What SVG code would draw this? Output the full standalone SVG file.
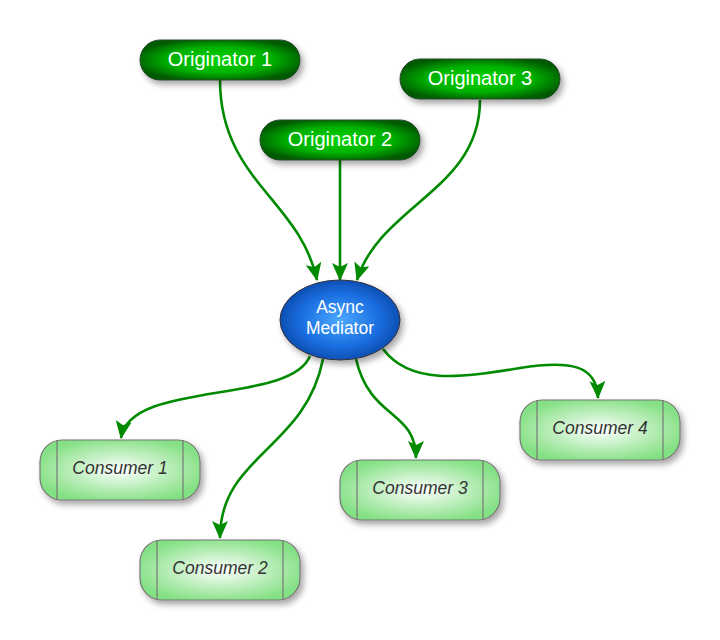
<svg xmlns="http://www.w3.org/2000/svg" width="720" height="640" viewBox="0 0 720 640">
<defs>
<radialGradient id="gOrig" cx="50%" cy="50%" r="55%">
<stop offset="0" stop-color="#00d400"/>
<stop offset="0.6" stop-color="#00b000"/>
<stop offset="1" stop-color="#005a00"/>
</radialGradient>
<radialGradient id="gMed" cx="50%" cy="50%" r="55%">
<stop offset="0" stop-color="#4aa8ff"/>
<stop offset="0.6" stop-color="#1a6ee0"/>
<stop offset="1" stop-color="#0a46a8"/>
</radialGradient>
<radialGradient id="gCons" cx="50%" cy="50%" r="55%">
<stop offset="0" stop-color="#ffffff"/>
<stop offset="1" stop-color="#84e084"/>
</radialGradient>
<filter id="sh" x="-20%" y="-30%" width="150%" height="180%">
<feDropShadow dx="3" dy="4" stdDeviation="3" flood-color="#000" flood-opacity="0.35"/>
</filter>
<marker id="arr" markerUnits="userSpaceOnUse" markerWidth="20" markerHeight="16" refX="17" refY="8" orient="auto">
<path d="M0,0 L18,8 L0,16 L4,8 z" fill="#008a00"/>
</marker>
<style>
.orig rect{fill:url(#gOrig);stroke:#2a4a2a;stroke-width:1;filter:url(#sh)}
.orig text{fill:#fff;font-family:"Liberation Sans",Arial,sans-serif;font-size:20px;text-anchor:middle}
.med ellipse{fill:url(#gMed);stroke:#333;stroke-width:1;filter:url(#sh)}
.med text{fill:#fff;font-family:"Liberation Sans",Arial,sans-serif;font-size:17.5px;text-anchor:middle}
.cons rect{fill:url(#gCons);stroke:#777;stroke-width:1.2;filter:url(#sh)}
.cons line{stroke:#777;stroke-width:1.2}
.cons text{fill:#333;font-family:"Liberation Sans",Arial,sans-serif;font-size:17.5px;font-style:italic;text-anchor:middle}
.conn path{fill:none;stroke:#008a00;stroke-width:2.6;marker-end:url(#arr)}
</style>
</defs>
<rect width="720" height="640" fill="#fff"/>
<g class="conn" id="connectors">
<path d="M220,80 C220,180 300,200 317,280"/>
<path d="M340,160 L340,280"/>
<path d="M480,100 C480,190 380,205 357,280"/>
<path d="M310,356 C290,405 130,380 121,438"/>
<path d="M323,359 C305,450 220,455 220,538"/>
<path d="M356,359 C370,420 416,410 416,458"/>
<path d="M383,349 C410,385 460,378 520,368 C570,360 597,365 598,398"/>
</g>
<g class="orig" id="originator1"><rect x="140" y="40" width="160" height="40" rx="20"/><text x="220" y="66">Originator 1</text></g>
<g class="orig" id="originator2"><rect x="260" y="120" width="160" height="40" rx="20"/><text x="340" y="146">Originator 2</text></g>
<g class="orig" id="originator3"><rect x="400" y="59" width="160" height="40" rx="20"/><text x="480" y="85">Originator 3</text></g>
<g class="med" id="mediator"><ellipse cx="340" cy="320" rx="60" ry="40"/><text x="340" y="313">Async</text><text x="340" y="334">Mediator</text></g>
<g class="cons" id="consumer1"><rect x="40" y="440" width="160" height="60" rx="22"/><line x1="57" y1="440" x2="57" y2="500"/><line x1="183" y1="440" x2="183" y2="500"/><text x="120" y="474">Consumer 1</text></g>
<g class="cons" id="consumer2"><rect x="140" y="540" width="160" height="60" rx="22"/><line x1="157" y1="540" x2="157" y2="600"/><line x1="283" y1="540" x2="283" y2="600"/><text x="220" y="574">Consumer 2</text></g>
<g class="cons" id="consumer3"><rect x="340" y="460" width="160" height="60" rx="22"/><line x1="357" y1="460" x2="357" y2="520"/><line x1="483" y1="460" x2="483" y2="520"/><text x="420" y="494">Consumer 3</text></g>
<g class="cons" id="consumer4"><rect x="520" y="400" width="160" height="60" rx="22"/><line x1="537" y1="400" x2="537" y2="460"/><line x1="663" y1="400" x2="663" y2="460"/><text x="600" y="434">Consumer 4</text></g>
</svg>
